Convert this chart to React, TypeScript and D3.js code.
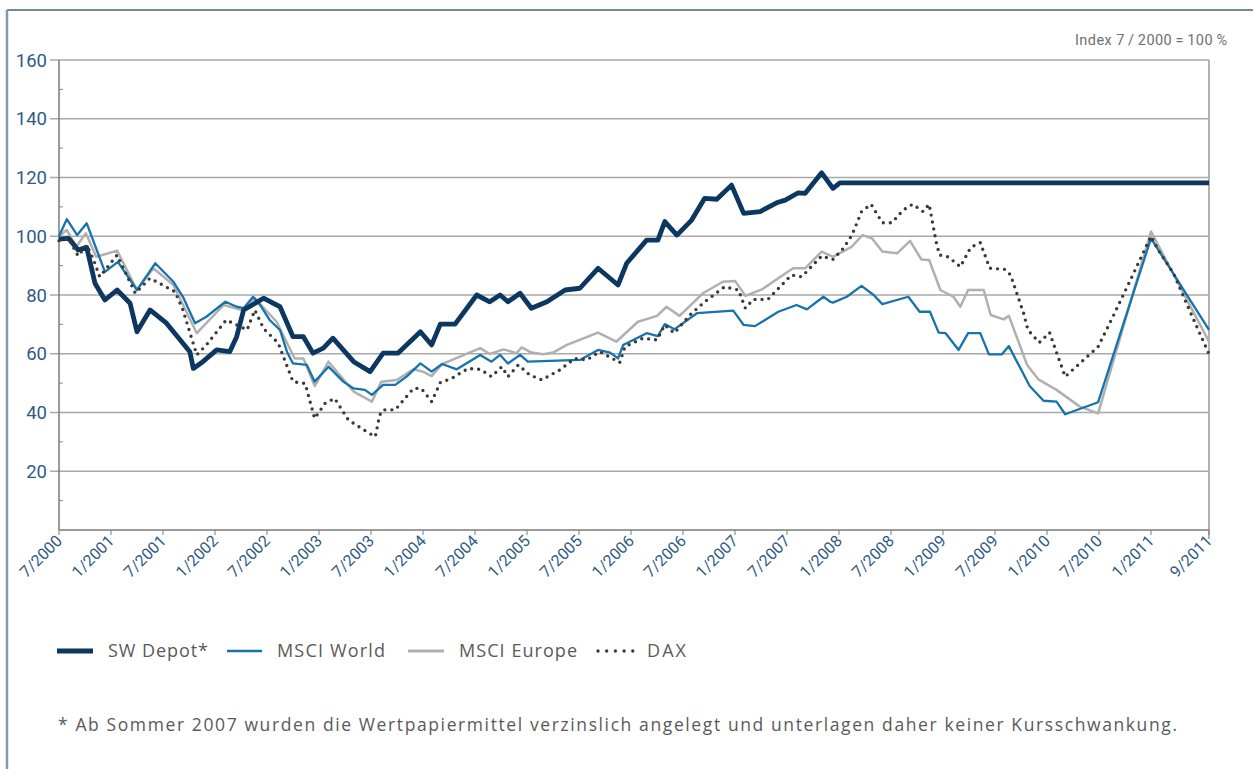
import React from "react";
import * as d3 from "d3";

// months since 7/2000
const xTickLabels = ["7/2000","1/2001","7/2001","1/2002","7/2002","1/2003","7/2003","1/2004","7/2004","1/2005","7/2005","1/2006","7/2006","1/2007","7/2007","1/2008","7/2008","1/2009","7/2009","1/2010","7/2010","1/2011","9/2011"];
const xTickMonths = [0,6,12,18,24,30,36,42,48,54,60,66,72,78,84,90,96,102,108,114,120,126,134];
const yTicks = [20,40,60,80,100,120,140,160];
const yMinorTicks = [10,30,50,70,90,110,130,150];

const depot: [number, number][] = [
  [0,99],[1.1,99.3],[2.2,95.3],[3.2,96.2],[4.15,84],[5.3,78.3],[6.7,81.7],[8.2,77.2],[9,67.5],[10.5,74.9],[12.4,70.4],[15.1,60.7],[15.5,55],[16.6,57.3],[18.2,61.3],[19.7,60.7],[20.5,65.8],[21.3,74.9],[23.6,78.9],[25.5,76],[27,65.8],[28.2,65.8],[29.3,60.2],[30.5,61.9],[31.6,65.3],[34,57.3],[35.9,53.9],[37.4,60.2],[39.1,60.2],[41.7,67.5],[43,63],[44,70.1],[45.7,70.1],[48.2,80],[49.7,77.7],[50.9,80],[51.8,77.7],[53.2,80.6],[54.5,75.5],[56.3,77.7],[58.4,81.7],[60.1,82.3],[62.2,89.1],[64.5,83.4],[65.5,90.8],[67.8,98.7],[69.1,98.7],[69.9,105],[71.3,100.4],[73,105.5],[74.5,112.9],[75.9,112.6],[77.6,117.4],[79,107.8],[80.9,108.4],[82.8,111.4],[83.8,112.3],[85.3,114.8],[86.1,114.6],[88,121.6],[89.3,116.3],[90.1,118.2],[134,118.2]
];
const msciWorld: [number, number][] = [
  [0,100],[0.9,105.8],[2.1,100.4],[3.2,104.4],[5.3,87.9],[6.8,91.3],[9,81.7],[11.1,90.8],[13.2,84.5],[14.3,79.4],[15.7,70.4],[17,72.6],[19.2,77.7],[20.5,76],[21.3,75.5],[22.4,79.4],[23.2,76.6],[24.3,71.5],[25.5,68.1],[26.3,60.7],[27,56.7],[28.6,56.2],[29.5,50.5],[31.1,55.6],[32.8,50.5],[34,48.2],[35.3,47.7],[36.1,46],[37.4,49.4],[38.8,49.4],[40.1,52.2],[41.7,56.7],[43,53.9],[44.2,56.5],[45.9,54.7],[48.6,59.6],[49.9,57.3],[50.9,59.6],[51.8,56.7],[53.2,59.6],[54.1,57.3],[60.1,57.9],[62.2,61.3],[63.6,60.4],[64.5,58.4],[65.1,63],[67.8,67],[69.1,66],[69.9,70.1],[71,68.3],[73.6,73.8],[77.8,74.7],[79,69.8],[80.3,69.4],[83,74.3],[85.1,76.6],[86.3,75.1],[88.2,79.4],[89,77.7],[89.3,77.4],[90.9,79.4],[92.6,83.1],[94,80],[95,76.9],[98,79.4],[99.3,74.3],[100.5,74.3],[101.5,67.2],[102.3,67],[103.8,61.3],[104.9,67],[106.3,67],[107.3,59.8],[108.8,59.8],[109.6,62.6],[112,49],[113.6,44],[115.1,43.7],[116.1,39.4],[119.9,43.5],[126,99.3],[134,68.1]
];
const msciEurope: [number, number][] = [
  [0,100],[0.9,102.1],[2,96.5],[3.1,101],[4.3,93],[6.7,95.1],[9,81.7],[10.9,89.1],[13.2,83.4],[15.9,67],[19,76.6],[21.1,74.9],[22.6,78.9],[25.1,70.9],[27.2,58.4],[28.2,58.4],[29.5,49],[31.1,57.3],[34,47.1],[36.1,43.7],[37.2,50.5],[39,51.1],[40.9,54.7],[42,53.9],[43,52.4],[44.2,56.5],[48.6,61.9],[49.7,59.9],[51.3,61.5],[52.8,60.2],[53.4,62.2],[54.5,60.4],[55.9,59.8],[57,60.4],[58.6,63],[62.2,67.2],[64.3,64.1],[66.8,70.9],[69,72.9],[70.1,76],[71.6,72.9],[74.3,80.6],[76.6,84.5],[78,84.8],[79.2,79.7],[81.1,81.9],[84.7,89.1],[86.1,89.1],[88,94.8],[89.3,93],[91.5,96.5],[92.7,100.4],[93.8,99.3],[95,94.8],[96.7,94.2],[98.2,98.4],[99.5,92.1],[100.4,91.9],[101.7,81.7],[103.2,79.4],[104,76],[104.9,81.7],[106.7,81.7],[107.5,73.2],[109,71.7],[109.6,72.9],[111.7,56.2],[113,51.3],[115.1,47.7],[117.8,42],[119.9,39.7],[126,101.6],[134,64.1]
];
const dax: [number, number][] = [
  [0,98.5],[1.1,99.3],[2.2,93.3],[3.2,97],[4,91.9],[4.7,86.2],[6.7,93.6],[8.8,80.6],[10.5,85.7],[13.4,81.1],[14.3,74.9],[15.9,59.6],[17,63],[19.3,71.5],[20.1,70.4],[21.7,68.1],[22.6,74.9],[23.6,68.6],[25.3,63.6],[27,50.5],[28.4,49.9],[29.5,38],[30.7,43.1],[31.8,44.8],[33.4,37.4],[34.9,34.6],[35.7,33.1],[36.5,31.8],[37,39.1],[37.4,40.9],[38.8,40.9],[40.9,48.2],[41.8,48.2],[43,43.7],[44,50.2],[45.3,51.6],[47.2,55],[48.6,54.7],[49.9,52.2],[51.1,55.6],[51.8,52.2],[53,56.2],[54.3,52.8],[55.7,51.1],[57.8,54.5],[59.5,58.4],[60.9,57.9],[62.4,60.7],[64.7,57],[65.3,62.4],[67.4,65.3],[69,64.7],[69.9,69.8],[71,67],[72.8,73.2],[74.5,77.7],[76.8,82.8],[78.4,81.7],[79.2,75.5],[80.1,78.5],[81.8,78.5],[84.5,86.8],[85.7,86.2],[88,93.3],[89.3,92.1],[90.5,95.9],[91.5,100.4],[92.6,108.4],[93.7,110.9],[95,104.6],[96.1,104.6],[97.4,108.9],[98.5,110.9],[99.7,108.4],[100.4,110.9],[101.2,98.2],[101.6,93.6],[102.6,93],[104,89.6],[105.2,96.2],[106.3,97.8],[107.4,89.1],[109.2,88.7],[109.8,86.8],[111.3,73.8],[111.8,68.1],[113.1,63.8],[114.3,67.2],[115.2,59.6],[116.1,52.2],[118,57.3],[119.9,62.4],[121.7,73.2],[123.8,86.2],[126,100],[127,95.3],[129.1,87.4],[131.4,74.3],[134,59.9]
];

const legendItems = ["SW Depot*", "MSCI World", "MSCI Europe", "DAX"];
const indexNote = "Index 7\u2009/\u20092000\u2009=\u2009100\u2009%";
const footnote = "* Ab Sommer 2007 wurden die Wertpapiermittel verzinslich angelegt und unterlagen daher keiner Kursschwankung.";

const FONT = "Roboto, 'Liberation Sans', sans-serif";
const TFONT = "'Open Sans', Roboto, sans-serif";
const NAVY = "#0b3760";
const BLUE = "#1772ae";
const LGRAY = "#b0b0b0";
const DOT = "#3a3a3a";
const LABEL = "#2f5a84";
const TEXT = "#5a5a5a";

export default function App() {
  const x = d3.scaleLinear().domain([0, 126, 134]).range([59, 1151, 1209]);
  const y = d3.scaleLinear().domain([0, 160]).range([530, 60]);
  const line = d3.line<[number, number]>().x(d => x(d[0])).y(d => y(d[1]));

  const left = 59, right = 1209, bottom = 530, top = 60;
  const ly = 651;

  return (
    <svg width={1253} height={769} style={{ position: "absolute", left: 0, top: 0, background: "#fff" }} fontFamily={FONT}>
      {/* frame */}
      <line x1={7} y1={10} x2={1253} y2={10} stroke="#3e6384" strokeWidth={1.5} />
      <line x1={7} y1={10} x2={7} y2={769} stroke="#7e9bb5" strokeWidth={2.5} />

      {/* grid */}
      {yTicks.map(t => (
        <line key={"g" + t} x1={50} x2={right} y1={y(t)} y2={y(t)} stroke="#a9a9a9" strokeWidth={1.5} />
      ))}
      {yMinorTicks.map(t => (
        <line key={"m" + t} x1={left} x2={left + 4} y1={y(t)} y2={y(t)} stroke="#8a8a8a" strokeWidth={1} />
      ))}
      {yTicks.map(t => (
        <text key={"yl" + t} x={47} y={y(t)} dy="0.36em" textAnchor="end" fontSize={18.5} fill={LABEL}>{t}</text>
      ))}
      <line x1={right} x2={right} y1={top} y2={539} stroke="#b0b0b0" strokeWidth={2} />
      <line x1={left} x2={left} y1={top} y2={bottom} stroke="#7a7a7a" strokeWidth={1.5} />
      <line x1={left} x2={right} y1={bottom} y2={bottom} stroke="#7a7a7a" strokeWidth={1.5} />
      {xTickMonths.map((m, i) => (
        <g key={"xt" + i}>
          <line x1={x(m)} x2={x(m)} y1={bottom} y2={bottom + 5} stroke="#7a7a7a" strokeWidth={1} />
          <text transform={`translate(${x(m) + 4},${bottom + 12}) rotate(-45)`} textAnchor="end" fontSize={16} fill={LABEL}>{xTickLabels[i]}</text>
        </g>
      ))}
      <text x={1227} y={45} textAnchor="end" fontSize={14.5} fill="#707070" textLength={152} lengthAdjust="spacing">{indexNote}</text>

      {/* series */}
      <path d={line(msciEurope) || ""} fill="none" stroke={LGRAY} strokeWidth={2.5} strokeLinejoin="round" />
      <path d={line(msciWorld) || ""} fill="none" stroke={BLUE} strokeWidth={2.3} strokeLinejoin="round" />
      <path d={line(depot) || ""} fill="none" stroke={NAVY} strokeWidth={4.8} strokeLinejoin="round" />
      <path d={line(dax) || ""} fill="none" stroke={DOT} strokeWidth={3.4} strokeLinecap="round" strokeDasharray="0 7" />

      {/* legend */}
      <g fontSize={18} fill={TEXT} fontFamily={TFONT}>
        <line x1={57} x2={93} y1={ly} y2={ly} stroke={NAVY} strokeWidth={5} />
        <text x={108} y={ly} dy="0.36em" textLength={100} lengthAdjust="spacing">{legendItems[0]}</text>
        <line x1={227} x2={262} y1={ly} y2={ly} stroke={BLUE} strokeWidth={2.5} />
        <text x={277} y={ly} dy="0.36em" textLength={108} lengthAdjust="spacing">{legendItems[1]}</text>
        <line x1={408} x2={444} y1={ly} y2={ly} stroke={LGRAY} strokeWidth={3} />
        <text x={459} y={ly} dy="0.36em" textLength={118} lengthAdjust="spacing">{legendItems[2]}</text>
        <line x1={598} x2={633} y1={ly} y2={ly} stroke={DOT} strokeWidth={3.4} strokeLinecap="round" strokeDasharray="0 8.7" />
        <text x={647} y={ly} dy="0.36em" textLength={39} lengthAdjust="spacing">{legendItems[3]}</text>
      </g>
      <text x={58} y={731} fontSize={17.5} fill={TEXT} fontFamily={TFONT} textLength={1119} lengthAdjust="spacing">{footnote}</text>
    </svg>
  );
}
